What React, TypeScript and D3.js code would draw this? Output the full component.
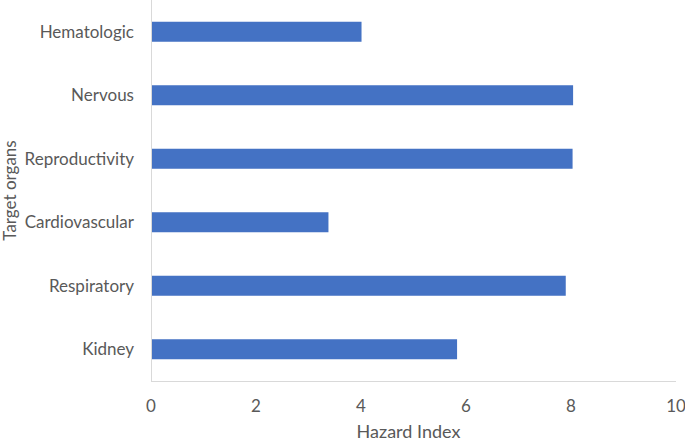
import React from "react";
import * as d3 from "d3";

const categories = ["Hematologic", "Nervous", "Reproductivity", "Cardiovascular", "Respiratory", "Kidney"];
const values = [4.01, 8.04, 8.03, 3.38, 7.9, 5.83];
const xTicks = [0, 2, 4, 6, 8, 10];

export default function App() {
  const W = 685, H = 441;
  const left = 151, right = 676, top = 0, bottom = 381;
  const x = d3.scaleLinear().domain([0, 10]).range([left, right]);
  const y = d3.scaleBand<string>().domain(categories).range([top, bottom]).paddingInner(0.685).paddingOuter(0.3425);
  const font = "Lato, 'Open Sans', sans-serif";
  const grey = "#595959";
  return (
    <svg width={W} height={H} style={{ position: "absolute", left: 0, top: 0 }}>
      <rect width={W} height={H} fill="#fff" />
      {categories.map((c, i) => (
        <rect key={c} x={x(0)} y={y(c)!} width={x(values[i]) - x(0)} height={y.bandwidth()} fill="#4472C4" />
      ))}
      <line x1={left + 0.5} x2={left + 0.5} y1={top} y2={bottom} stroke="#D9D9D9" />
      <line x1={left} x2={right} y1={bottom + 0.5} y2={bottom + 0.5} stroke="#D9D9D9" />
      {categories.map((c) => (
        <text key={c} x={134} y={y(c)! + y.bandwidth() / 2} dy="0.35em" textAnchor="end" fontSize={17} fill={grey} fontFamily={font}>{c}</text>
      ))}
      {xTicks.map((t) => (
        <text key={t} x={x(t)} y={406} dy="0.35em" textAnchor="middle" fontSize={17} fill={grey} fontFamily={font}>{t}</text>
      ))}
      <text x={(left + right) / 2 - 5} y={432} dy="0.35em" textAnchor="middle" fontSize={18} fill={grey} fontFamily={font}>Hazard Index</text>
      <text transform={`translate(10.5, ${(top + bottom) / 2}) rotate(-90)`} dy="0.35em" textAnchor="middle" fontSize={17} fill={grey} fontFamily={font}>Target organs</text>
    </svg>
  );
}
